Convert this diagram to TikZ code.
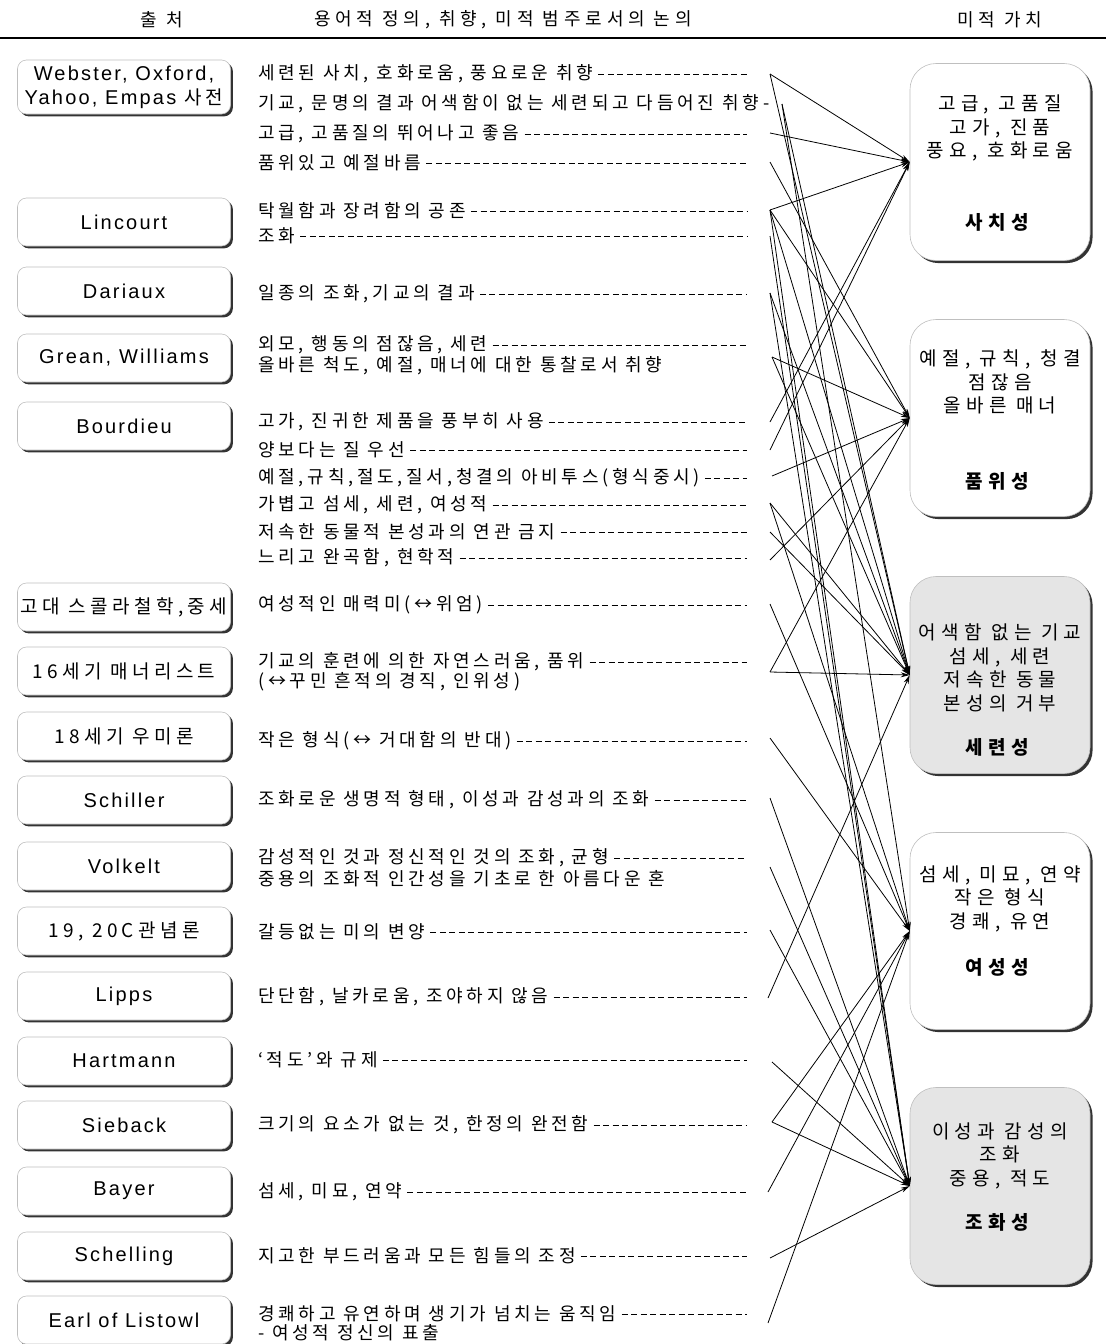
\documentclass[tikz,border=0pt]{standalone}
\usepackage{fontspec}
\setmainfont{Liberation Sans}
\newfontfamily\kr[LetterSpace=21]{Noto Sans CJK KR}
\newfontfamily\krh[LetterSpace=27]{Noto Sans CJK KR}
\newfontfamily\krs[LetterSpace=23]{Noto Sans CJK KR}
\newfontfamily\krr[LetterSpace=28]{Noto Sans CJK KR}
\newfontfamily\lat[LetterSpace=11]{Liberation Sans}
\usetikzlibrary{shadows,arrows.meta}
\begin{document}
\begin{tikzpicture}[x=1pt,y=-1pt,
  src/.style={draw=gray!50, line width=0.6pt, rounded corners=9pt, fill=white,
    minimum width=213pt, minimum height=48pt, inner sep=0pt, align=center,
    drop shadow={shadow xshift=2.4pt, shadow yshift=-2.4pt, opacity=1, fill=black!80},
    font=\lat\fontsize{20}{24}\selectfont},
  srck/.style={src, font=\krs\fontsize{19}{22}\selectfont},
  val/.style={draw=gray!50, line width=0.6pt, rounded corners=26pt, fill=white,
    minimum width=180pt, minimum height=197pt, inner sep=0pt,
    drop shadow={shadow xshift=2.6pt, shadow yshift=-2.6pt, opacity=1, fill=black!80}},
  valg/.style={val, fill=gray!20},
  valtxt/.style={align=center, inner sep=0pt, font=\krr\fontsize{19}{23.5}\selectfont},
  txt/.style={anchor=west, inner sep=0pt, font=\kr\fontsize{18}{20}\selectfont},
  hdr/.style={inner sep=0pt, font=\krh\fontsize{18}{20}\selectfont},
  dsh/.style={line width=1pt, dash pattern=on 6pt off 3.5pt, shorten <=5pt},
  conn/.style={line width=0.8pt, -{Stealth[length=9pt,width=5pt]}}
]
\useasboundingbox (0,0) rectangle (1106,1344);

% header
\node[hdr] (h1) at (162,20) {출 처};
\node[hdr] (h2) at (503,20) {용어적 정의, 취향, 미적 범주로서의 논의};
\node[hdr] (h3) at (1000,20) {미적 가치};
\coordinate (rl) at (0,38);
\coordinate (rr) at (1106,38);
\draw[line width=1.8pt] (rl) -- (rr);

% source boxes
\node[src, minimum height=54pt] (p1) at (124,87) {Webster, Oxford,\\Yahoo, Empas {\krs\fontsize{19}{24}\selectfont 사전}};
\node[src] (p2) at (124,222) {Lincourt};
\node[src] (p3) at (124,291) {Dariaux};
\node[src] (p4) at (124,358) {Grean, Williams};
\node[src] (p5) at (124,426) {Bourdieu};
\node[srck] (p6) at (124,607) {고대 스콜라철학,중세};
\node[srck] (p7) at (124,671) {16세기 매너리스트};
\node[srck] (p8) at (124,736) {18세기 우미론};
\node[src] (p9) at (124,800) {Schiller};
\node[src] (p10) at (124,866) {Volkelt};
\node[srck] (p11) at (124,931) {19, 20C관념론};
\node[src] (p12) at (124,996) {Lipps};
\node[src] (p13) at (124,1061) {Hartmann};
\node[src] (p14) at (124,1125) {Sieback};
\node[src] (p15) at (124,1191) {Bayer};
\node[src] (p16) at (124,1256) {Schelling};
\node[src] (p17) at (124,1320) {Earl of Listowl};

% value boxes
\node[val] (b1) at (1000,162) {};
\node[valtxt] (b1t) at (1000,163) {고급, 고품질\\고가, 진품\\풍요, 호화로움\\[48pt]\textbf{사치성}};
\node[val] (b2) at (1000,418) {};
\node[valtxt] (b2t) at (1000,420) {예절, 규칙, 청결\\점잖음\\올바른 매너\\[52pt]\textbf{품위성}};
\node[valg] (b3) at (1000,675) {};
\node[valtxt] (b3t) at (1000,690) {어색함 없는 기교\\섬세, 세련\\저속한 동물\\본성의 거부\\[21pt]\textbf{세련성}};
\node[val] (b4) at (1000,931) {};
\node[valtxt] (b4t) at (1000,921) {섬세, 미묘, 연약\\작은 형식\\경쾌, 유연\\[23pt]\textbf{여성성}};
\node[valg] (b5) at (1000,1186) {};
\node[valtxt] (b5t) at (1000,1177) {이성과 감성의\\조화\\중용, 적도\\[21pt]\textbf{조화성}};

% statements
\node[txt] (t1) at (258,74) {세련된 사치, 호화로움, 풍요로운 취향};
\node[txt] (t2) at (258,104) {기교, 문명의 결과 어색함이 없는 세련되고 다듬어진 취향-};
\node[txt] (t3) at (258,134) {고급, 고품질의 뛰어나고 좋음};
\node[txt] (t4) at (258,163) {품위있고 예절바름};
\node[txt] (t5) at (258,211) {탁월함과 장려함의 공존};
\node[txt] (t6) at (258,236) {조화};
\node[txt] (t7) at (258,294) {일종의 조화,기교의 결과};
\node[txt] (t8) at (258,345) {외모, 행동의 점잖음, 세련};
\node[txt] (t9) at (258,366) {올바른 척도, 예절, 매너에 대한 통찰로서 취향};
\node[txt] (t10) at (258,422) {고가, 진귀한 제품을 풍부히 사용};
\node[txt] (t11) at (258,450) {양보다는 질 우선};
\node[txt] (t12) at (258,478) {예절,규칙,절도,질서,청결의 아비투스(형식중시)};
\node[txt] (t13) at (258,505) {가볍고 섬세, 세련, 여성적};
\node[txt] (t14) at (258,532) {저속한 동물적 본성과의 연관 금지};
\node[txt] (t15) at (258,558) {느리고 완곡함, 현학적};
\node[txt] (t16) at (258,605) {여성적인 매력미(↔위엄)};
\node[txt] (t17) at (258,662) {기교의 훈련에 의한 자연스러움, 품위};
\node[txt] (t17b) at (258,682) {(↔꾸민 흔적의 경직, 인위성)};
\node[txt] (t18) at (258,741) {작은 형식(↔ 거대함의 반대)};
\node[txt] (t19) at (258,800) {조화로운 생명적 형태, 이성과 감성과의 조화};
\node[txt] (t20) at (258,858) {감성적인 것과 정신적인 것의 조화, 균형};
\node[txt] (t20b) at (258,879) {중용의 조화적 인간성을 기초로 한 아름다운 혼};
\node[txt] (t21) at (258,932) {갈등없는 미의 변양};
\node[txt] (t22) at (258,997) {단단함, 날카로움, 조야하지 않음};
\node[txt] (t23) at (258,1060) {‘적도’와 규제};
\node[txt] (t24) at (258,1125) {크기의 요소가 없는 것, 한정의 완전함};
\node[txt] (t25) at (258,1192) {섬세, 미묘, 연약};
\node[txt] (t26) at (258,1256) {지고한 부드러움과 모든 힘들의 조정};
\node[txt] (t27) at (258,1314) {경쾌하고 유연하며 생기가 넘치는 움직임};
\node[txt] (t27b) at (258,1333) {- 여성적 정신의 표출};

% dash leaders
\foreach \i/\y in {1/74,3/134,4/163,5/211,6/236,7/294,8/345,10/422,11/450,12/478,13/505,14/532,15/558,16/605,17/662,18/741,19/800,20/858,21/932,22/997,23/1060,24/1125,25/1192,26/1256,27/1314}{
  \coordinate (d\i) at (747,\y);
  \draw[dsh] (t\i.east) -- (d\i);
}

% connector start points
\coordinate (s1) at (770,74);
\coordinate (s2) at (782,104);
\coordinate (s3) at (770,133);
\coordinate (s4) at (770,162);
\coordinate (s5) at (770,210);
\coordinate (s6) at (770,236);
\coordinate (s7) at (770,293);
\coordinate (s8) at (772,357);
\coordinate (s10) at (770,422);
\coordinate (s11) at (770,450);
\coordinate (s12) at (772,476);
\coordinate (s13) at (770,503);
\coordinate (s14) at (770,532);
\coordinate (s15) at (770,560);
\coordinate (s16) at (770,604);
\coordinate (s17) at (770,672);
\coordinate (s18) at (770,738);
\coordinate (s19) at (770,798);
\coordinate (s20) at (770,867);
\coordinate (s21) at (770,930);
\coordinate (s22) at (768,998);
\coordinate (s23) at (772,1062);
\coordinate (s24) at (772,1122);
\coordinate (s25) at (768,1192);
\coordinate (s26) at (770,1258);
\coordinate (s27) at (768,1323);

% connectors
\draw[conn] (s1) -- (b1.west);
\draw[conn] (s1) -- (b3.west);
\draw[conn] (s2) -- (b3.west);
\draw[conn] (s2) -- (b4.west);
\draw[conn] (s3) -- (b1.west);
\draw[conn] (s4) -- (b2.west);
\draw[conn] (s5) -- (b1.west);
\draw[conn] (s5) -- (b2.west);
\draw[conn] (s5) -- (b3.west);
\draw[conn] (s5) -- (b5.west);
\draw[conn] (s6) -- (b5.west);
\draw[conn] (s7) -- (b5.west);
\draw[conn] (s7) -- (b3.west);
\draw[conn] (s8) -- (b2.west);
\draw[conn] (s8) -- (b3.west);
\draw[conn] (s10) -- (b1.west);
\draw[conn] (s11) -- (b1.west);
\draw[conn] (s12) -- (b2.west);
\draw[conn] (s13) -- (b3.west);
\draw[conn] (s13) -- (b4.west);
\draw[conn] (s14) -- (b3.west);
\draw[conn] (s15) -- (b2.west);
\draw[conn] (s16) -- (b4.west);
\draw[conn] (s17) -- (b2.west);
\draw[conn] (s17) -- (b3.west);
\draw[conn] (s18) -- (b4.west);
\draw[conn] (s19) -- (b5.west);
\draw[conn] (s20) -- (b5.west);
\draw[conn] (s21) -- (b5.west);
\draw[conn] (s22) -- (b3.west);
\draw[conn] (s23) -- (b5.west);
\draw[conn] (s24) -- (b5.west);
\draw[conn] (s24) -- (b4.west);
\draw[conn] (s25) -- (b4.west);
\draw[conn] (s26) -- (b5.west);
\draw[conn] (s27) -- (b4.west);
\end{tikzpicture}
\end{document}
